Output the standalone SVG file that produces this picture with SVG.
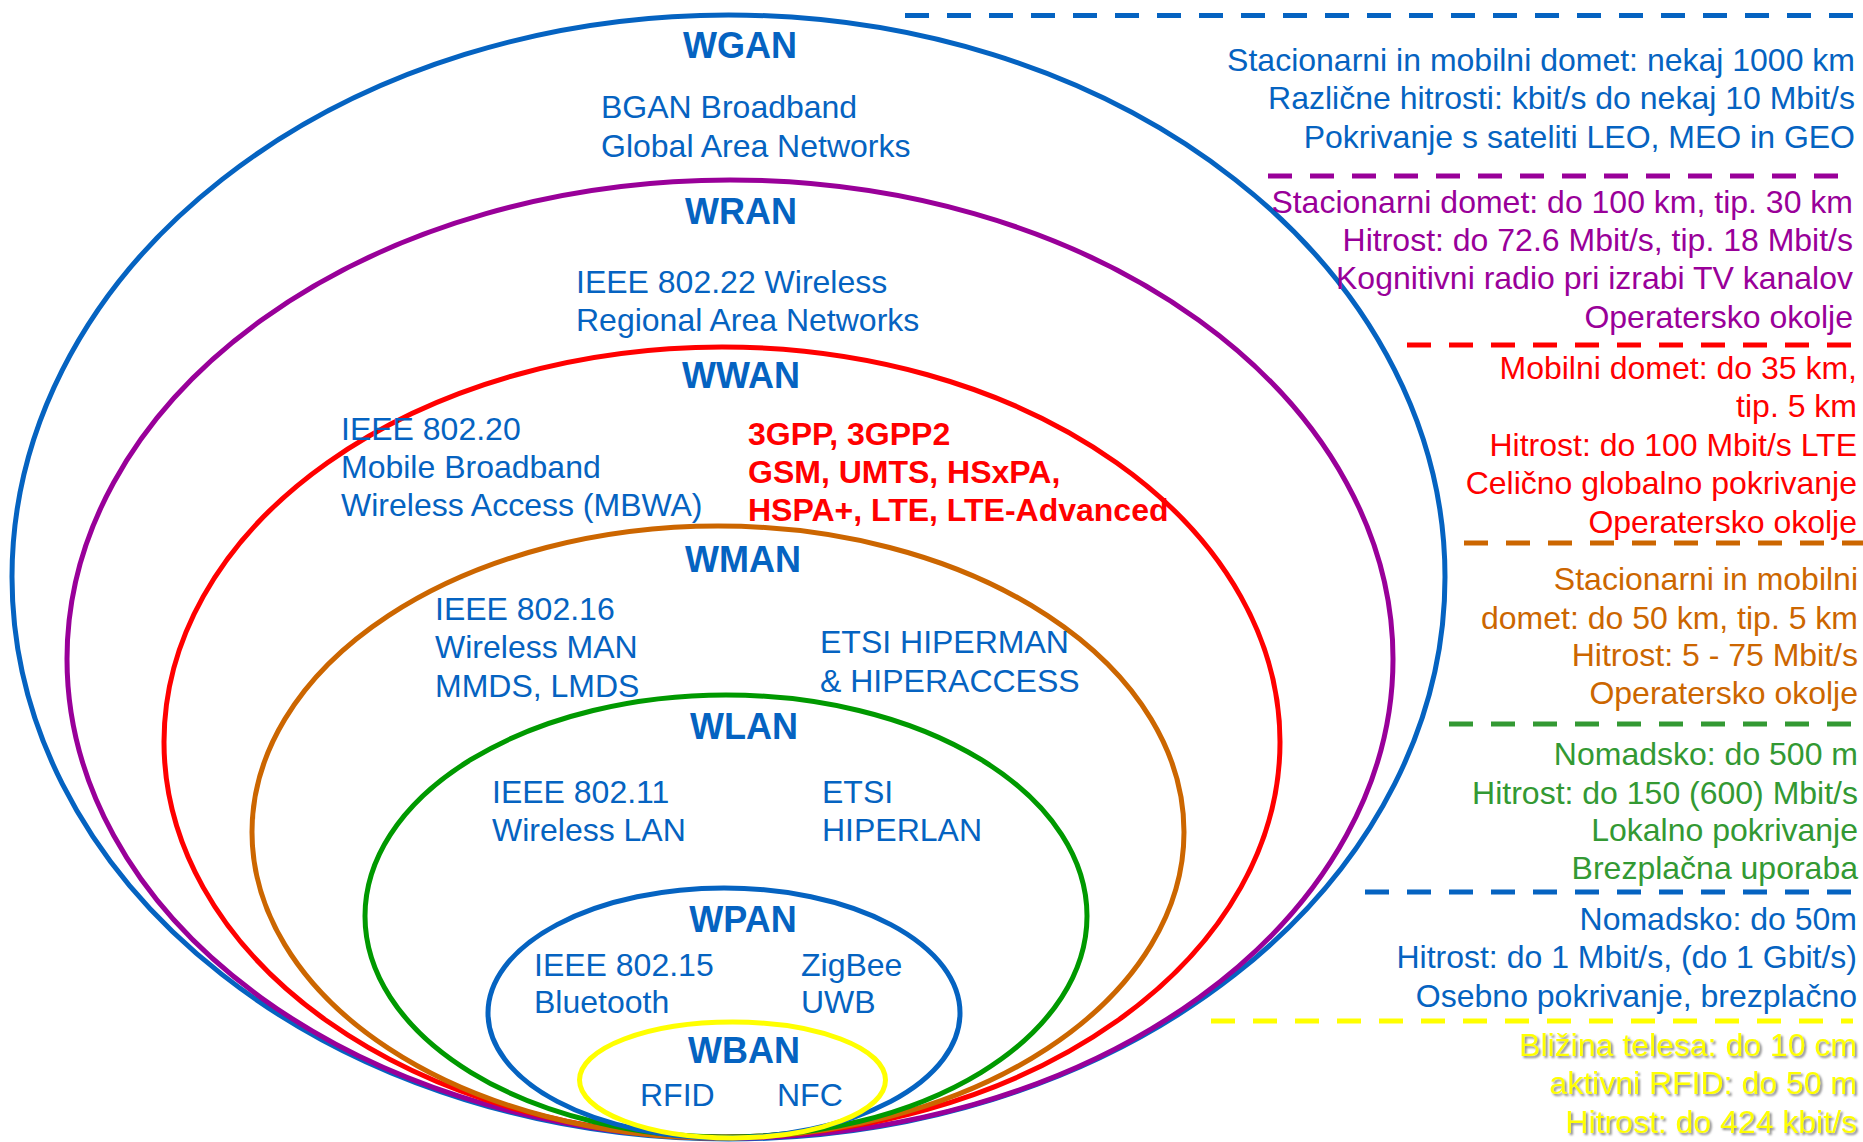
<svg xmlns="http://www.w3.org/2000/svg" width="1863" height="1142" viewBox="0 0 1863 1142">
<style>
text{font-family:"Liberation Sans",Arial,sans-serif;font-size:32px}
.t{font-weight:bold;font-size:36px;fill:#0563C1;text-anchor:middle}
.b{fill:#0563C1}
.rb{fill:#FF0000;font-weight:bold;font-size:32px}
.ring{fill:none;stroke-width:5}
.sep{fill:none;stroke-width:5;stroke-dasharray:24 18}
.r{text-anchor:end}
</style>
<defs>
<filter id="sh" x="-5%" y="-20%" width="110%" height="150%">
<feDropShadow dx="2" dy="2" stdDeviation="1.2" flood-color="#7f7f7f" flood-opacity="0.9"/>
</filter>
</defs>
<rect width="1863" height="1142" fill="#fff"/>

<g id="wgan">
<ellipse class="ring" cx="728.5" cy="577" rx="716.5" ry="562" stroke="#0563C1"/>
<text class="t" x="740" y="58">WGAN</text>
<text class="b" x="601" y="118">BGAN Broadband</text>
<text class="b" x="601" y="157">Global Area Networks</text>
</g>
<g id="wran">
<ellipse class="ring" cx="730" cy="659" rx="663" ry="479" stroke="#990099"/>
<text class="t" x="741" y="224">WRAN</text>
<text class="b" x="576" y="293">IEEE 802.22 Wireless</text>
<text class="b" x="576" y="331">Regional Area Networks</text>
</g>
<g id="wwan">
<ellipse class="ring" cx="722" cy="742" rx="558" ry="395" stroke="#FF0000"/>
<text class="t" x="741" y="388">WWAN</text>
<text class="b" x="341" y="440">IEEE 802.20</text>
<text class="b" x="341" y="478">Mobile Broadband</text>
<text class="b" x="341" y="516">Wireless Access (MBWA)</text>
<text class="rb" x="748" y="445">3GPP, 3GPP2</text>
<text class="rb" x="748" y="483">GSM, UMTS, HSxPA,</text>
<text class="rb" x="748" y="521">HSPA+, LTE, LTE-Advanced</text>
</g>
<g id="wman">
<ellipse class="ring" cx="718" cy="832" rx="466" ry="306" stroke="#CC6600"/>
<text class="t" x="743" y="572">WMAN</text>
<text class="b" x="435" y="620">IEEE 802.16</text>
<text class="b" x="435" y="658">Wireless MAN</text>
<text class="b" x="435" y="697">MMDS, LMDS</text>
<text class="b" x="820" y="653">ETSI HIPERMAN</text>
<text class="b" x="820" y="692">&amp; HIPERACCESS</text>
</g>
<g id="wlan">
<ellipse class="ring" cx="726" cy="916" rx="361" ry="221" stroke="#009900"/>
<text class="t" x="744" y="739">WLAN</text>
<text class="b" x="492" y="803">IEEE 802.11</text>
<text class="b" x="492" y="841">Wireless LAN</text>
<text class="b" x="822" y="803">ETSI</text>
<text class="b" x="822" y="841">HIPERLAN</text>
</g>
<g id="wpan">
<ellipse class="ring" cx="724" cy="1013" rx="236" ry="125" stroke="#0563C1"/>
<text class="t" x="743" y="932">WPAN</text>
<text class="b" x="534" y="976">IEEE 802.15</text>
<text class="b" x="534" y="1013">Bluetooth</text>
<text class="b" x="801" y="976">ZigBee</text>
<text class="b" x="801" y="1013">UWB</text>
</g>
<g id="wban">
<ellipse class="ring" cx="732.5" cy="1080" rx="153" ry="58" stroke="#FFFF00"/>
<text class="t" x="744" y="1063">WBAN</text>
<text class="b" x="640" y="1106">RFID</text>
<text class="b" x="777" y="1106">NFC</text>
</g>

<g id="separators">
<line class="sep" x1="905" y1="15.5" x2="1853" y2="15.5" stroke="#0563C1"/>
<line class="sep" x1="1268" y1="176" x2="1838" y2="176" stroke="#990099"/>
<line class="sep" x1="1407" y1="345" x2="1851" y2="345" stroke="#FF0000"/>
<line class="sep" x1="1464" y1="543" x2="1863" y2="543" stroke="#CC6600"/>
<line class="sep" x1="1449" y1="724" x2="1851" y2="724" stroke="#339933"/>
<line class="sep" x1="1365" y1="892" x2="1851" y2="892" stroke="#0563C1"/>
<line class="sep" x1="1211" y1="1021" x2="1853" y2="1021" stroke="#FFFF00"/>
</g>

<g id="info-wgan" fill="#0563C1">
<text class="r" x="1855" y="71">Stacionarni in mobilni domet: nekaj 1000 km</text>
<text class="r" x="1855" y="109">Različne hitrosti: kbit/s do nekaj 10 Mbit/s</text>
<text class="r" x="1855" y="148">Pokrivanje s sateliti LEO, MEO in GEO</text>
</g>
<g id="info-wran" fill="#990099">
<text class="r" x="1853" y="213">Stacionarni domet: do 100 km, tip. 30 km</text>
<text class="r" x="1853" y="251">Hitrost: do 72.6 Mbit/s, tip. 18 Mbit/s</text>
<text class="r" x="1853" y="289">Kognitivni radio pri izrabi TV kanalov</text>
<text class="r" x="1853" y="328">Operatersko okolje</text>
</g>
<g id="info-wwan" fill="#FF0000">
<text class="r" x="1857" y="379">Mobilni domet: do 35 km,</text>
<text class="r" x="1857" y="417">tip. 5 km</text>
<text class="r" x="1857" y="456">Hitrost: do 100 Mbit/s LTE</text>
<text class="r" x="1857" y="494">Celično globalno pokrivanje</text>
<text class="r" x="1857" y="533">Operatersko okolje</text>
</g>
<g id="info-wman" fill="#CC6600">
<text class="r" x="1858" y="590">Stacionarni in mobilni</text>
<text class="r" x="1858" y="629">domet: do 50 km, tip. 5 km</text>
<text class="r" x="1858" y="666">Hitrost: 5 - 75 Mbit/s</text>
<text class="r" x="1858" y="704">Operatersko okolje</text>
</g>
<g id="info-wlan" fill="#339933">
<text class="r" x="1858" y="765">Nomadsko: do 500 m</text>
<text class="r" x="1858" y="804">Hitrost: do 150 (600) Mbit/s</text>
<text class="r" x="1858" y="841">Lokalno pokrivanje</text>
<text class="r" x="1858" y="879">Brezplačna uporaba</text>
</g>
<g id="info-wpan" fill="#0563C1">
<text class="r" x="1857" y="930">Nomadsko: do 50m</text>
<text class="r" x="1857" y="968">Hitrost: do 1 Mbit/s, (do 1 Gbit/s)</text>
<text class="r" x="1857" y="1007">Osebno pokrivanje, brezplačno</text>
</g>
<g id="info-wban" fill="#FFFF00" filter="url(#sh)">
<text class="r" x="1857" y="1056">Bližina telesa: do 10 cm</text>
<text class="r" x="1857" y="1094">aktivni RFID: do 50 m</text>
<text class="r" x="1857" y="1133">Hitrost: do 424 kbit/s</text>
</g>
</svg>
